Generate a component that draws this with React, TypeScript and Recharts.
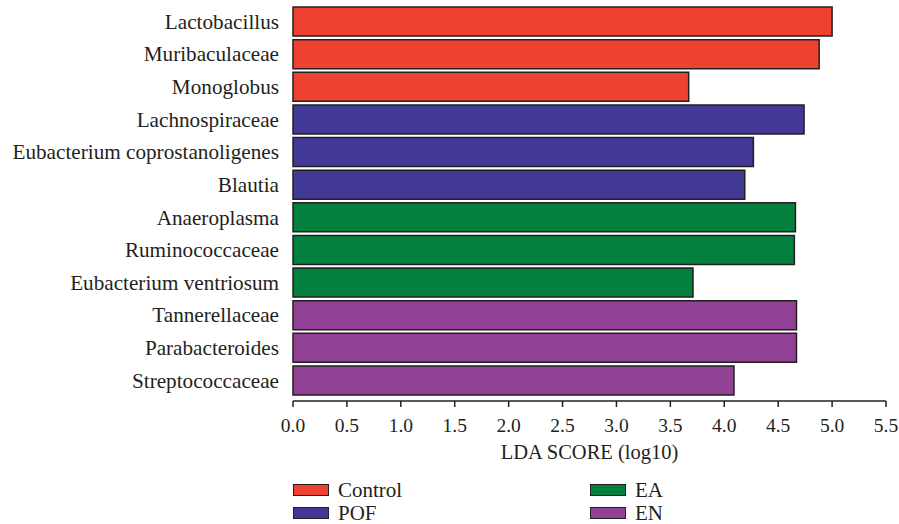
import React from "react";
import { BarChart, Bar, XAxis, YAxis, Cell } from "recharts";

const taxa = [
  "Lactobacillus",
  "Muribaculaceae",
  "Monoglobus",
  "Lachnospiraceae",
  "Eubacterium coprostanoligenes",
  "Blautia",
  "Anaeroplasma",
  "Ruminococcaceae",
  "Eubacterium ventriosum",
  "Tannerellaceae",
  "Parabacteroides",
  "Streptococcaceae",
];
const ldaScores = [5.0, 4.88, 3.67, 4.74, 4.27, 4.19, 4.66, 4.65, 3.71, 4.67, 4.67, 4.09];
const taxonGroup = ["Control", "Control", "Control", "POF", "POF", "POF", "EA", "EA", "EA", "EN", "EN", "EN"];
const groups = ["Control", "POF", "EA", "EN"];
const groupColors: Record<string, string> = {
  Control: "#ef4130",
  POF: "#423996",
  EA: "#037f3e",
  EN: "#924294",
};
const xTicks = [0, 0.5, 1, 1.5, 2, 2.5, 3, 3.5, 4, 4.5, 5, 5.5];

const ink = "#231f20";
const font = "'Liberation Serif', 'Times New Roman', serif";

const data = taxa.map((name, i) => ({ name, score: ldaScores[i], group: taxonGroup[i] }));

// legend laid out 2x2 like the figure: Control / POF on the left, EA / EN on the right
const legendSpots: Record<string, { left: number; top: number }> = {
  Control: { left: 293, top: 480 },
  POF: { left: 293, top: 503 },
  EA: { left: 590, top: 480 },
  EN: { left: 590, top: 503 },
};

export default function App() {
  return (
    <div style={{ position: "absolute", left: 0, top: 0, width: 899, height: 524, background: "#fff", fontFamily: font }}>
      <BarChart
        width={899}
        height={524}
        data={data}
        layout="vertical"
        margin={{ top: 5, right: 13, bottom: 53, left: 0 }}
        barSize={29}
      >
        <XAxis
          type="number"
          domain={[0, 5.5]}
          ticks={xTicks}
          interval={0}
          tickFormatter={(v: number) => v.toFixed(1)}
          height={70}
          tickSize={6}
          tickMargin={11}
          stroke={ink}
          axisLine={{ stroke: ink, strokeWidth: 1.5 }}
          tickLine={{ stroke: ink, strokeWidth: 1.5 }}
          tick={{ fill: ink, fontSize: 19.5, fontFamily: font }}
          label={{
            value: "LDA SCORE (log10)",
            position: "insideBottom",
            offset: 12,
            fill: ink,
            fontSize: 20.5,
            fontFamily: font,
          }}
        />
        <YAxis
          type="category"
          dataKey="name"
          width={293}
          interval={0}
          axisLine={false}
          tickLine={false}
          tickSize={0}
          tickMargin={14}
          padding={{ top: 0, bottom: 4.5 }}
          tick={{ fill: ink, fontSize: 21.2, fontFamily: font }}
        />
        <Bar dataKey="score" stroke={ink} strokeWidth={1.5} isAnimationActive={false}>
          {data.map((d, i) => (
            <Cell key={i} fill={groupColors[d.group]} />
          ))}
        </Bar>
      </BarChart>
      {groups.map((g) => (
        <div
          key={g}
          style={{
            position: "absolute",
            left: legendSpots[g].left,
            top: legendSpots[g].top,
            display: "flex",
            alignItems: "center",
            height: 20,
            fontSize: 21,
            color: ink,
            lineHeight: "20px",
          }}
        >
          <span
            style={{
              display: "inline-block",
              width: 34,
              height: 10,
              background: groupColors[g],
              border: `1px solid ${ink}`,
              marginRight: 9,
            }}
          />
          {g}
        </div>
      ))}
    </div>
  );
}
